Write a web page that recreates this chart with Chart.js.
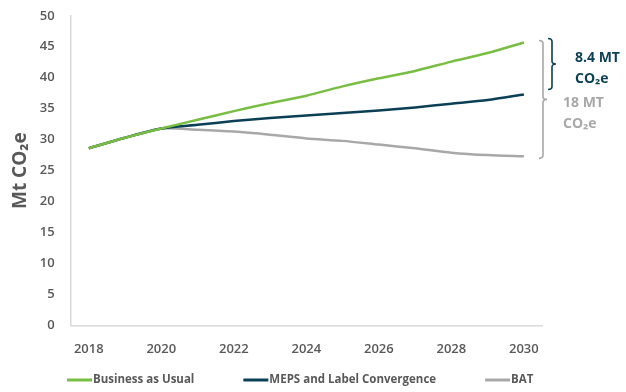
<!DOCTYPE html>
<html lang="en">
<head>
    <meta charset="UTF-8">
    <title>Mt CO2e projections</title>
    <script src="https://cdn.jsdelivr.net/npm/chart.js"></script>
    <style>
        body {
            margin: 0;
            background-color: white;
        }
        .chart-container {
            position: relative;
            width: 626px;
            height: 392px;
        }
    </style>
</head>
<body>
    <div class="chart-container">
        <canvas id="emissionsChart"></canvas>
    </div>

    <script>
        // Data
        const years = ['2018', '2019', '2020', '2021', '2022', '2023', '2024', '2025', '2026', '2027', '2028', '2029', '2030'];
        const businessAsUsual = [28.6, 30.3, 31.8, 33.2, 34.6, 35.9, 37.1, 38.6, 39.9, 41.1, 42.6, 44.0, 45.7];
        const mepsConvergence = [28.6, 30.3, 31.8, 32.4, 33.0, 33.5, 33.9, 34.3, 34.7, 35.2, 35.8, 36.4, 37.3];
        const bat = [28.6, 30.3, 31.8, 31.6, 31.3, 30.8, 30.2, 29.8, 29.2, 28.6, 27.9, 27.5, 27.3];
        const yTicks = [0, 5, 10, 15, 20, 25, 30, 35, 40, 45, 50];

        const green = '#78be43';
        const navy = '#0b3f56';
        const grey = '#a8a8a8';
        const textGrey = '#595959';
        const fontFamily = "'Open Sans', sans-serif";

        // Braces and labels showing the gap between scenarios in 2030
        const bracePlugin = {
            id: 'braces',
            afterDatasetsDraw(chart) {
                const ctx = chart.ctx;
                const y = chart.scales.y;
                const last = years.length - 1;
                const yBau = y.getPixelForValue(businessAsUsual[last]);
                const yMeps = y.getPixelForValue(mepsConvergence[last]);
                const yBat = y.getPixelForValue(bat[last]);
                const right = chart.chartArea.right;

                drawBrace(ctx, right + 1, yBau - 2, yBat + 2, 4, grey);
                drawBrace(ctx, right + 10, yBau - 4, yMeps - 5, 4, navy);

                const gapMeps = (businessAsUsual[last] - mepsConvergence[last]).toFixed(1);
                const gapBat = Math.round(businessAsUsual[last] - bat[last]);

                ctx.save();
                ctx.font = 'bold 14px ' + fontFamily;
                ctx.textBaseline = 'middle';
                ctx.textAlign = 'left';
                ctx.fillStyle = navy;
                ctx.fillText(gapMeps + ' MT', right + 33, (yBau + yMeps) / 2 - 10);
                ctx.fillText('CO\u2082e', right + 33, (yBau + yMeps) / 2 + 11);
                ctx.fillStyle = grey;
                ctx.fillText(gapBat + ' MT', right + 21, (yBau + yBat) / 2 + 4);
                ctx.fillText('CO\u2082e', right + 21, (yBau + yBat) / 2 + 25);
                ctx.restore();
            }
        };

        function drawBrace(ctx, x, y1, y2, w, color) {
            const mid = (y1 + y2) / 2;
            const r = 3;
            ctx.save();
            ctx.strokeStyle = color;
            ctx.lineWidth = 1.6;
            ctx.beginPath();
            ctx.moveTo(x - w, y1);
            ctx.quadraticCurveTo(x, y1, x, y1 + r);
            ctx.lineTo(x, mid - r);
            ctx.quadraticCurveTo(x, mid, x + w, mid);
            ctx.quadraticCurveTo(x, mid, x, mid + r);
            ctx.lineTo(x, y2 - r);
            ctx.quadraticCurveTo(x, y2, x - w, y2);
            ctx.stroke();
            ctx.restore();
        }

        // Legend laid out like the original (wide spacing, line swatches)
        const legendPlugin = {
            id: 'wideLegend',
            afterDraw(chart) {
                const ctx = chart.ctx;
                let x = 67;
                const y = 380;
                ctx.save();
                ctx.font = 'bold 11.5px ' + fontFamily;
                ctx.textBaseline = 'middle';
                ctx.textAlign = 'left';
                chart.data.datasets.forEach(ds => {
                    ctx.strokeStyle = ds.borderColor;
                    ctx.lineWidth = 3;
                    ctx.beginPath();
                    ctx.moveTo(x, y);
                    ctx.lineTo(x + 25, y);
                    ctx.stroke();
                    ctx.fillStyle = textGrey;
                    ctx.fillText(ds.label, x + 26, y);
                    x += 26 + ctx.measureText(ds.label).width + 49;
                });
                ctx.restore();
            }
        };

        const ctx = document.getElementById('emissionsChart').getContext('2d');
        const chart = new Chart(ctx, {
            type: 'line',
            data: {
                labels: years,
                datasets: [
                    {
                        label: 'Business as Usual',
                        data: businessAsUsual,
                        borderColor: green,
                        backgroundColor: green,
                        borderWidth: 2.5,
                        pointRadius: 0,
                        tension: 0.25
                    },
                    {
                        label: 'MEPS and Label Convergence',
                        data: mepsConvergence,
                        borderColor: navy,
                        backgroundColor: navy,
                        borderWidth: 2.5,
                        pointRadius: 0,
                        tension: 0.25
                    },
                    {
                        label: 'BAT',
                        data: bat,
                        borderColor: grey,
                        backgroundColor: grey,
                        borderWidth: 2.5,
                        pointRadius: 0,
                        tension: 0.25
                    }
                ]
            },
            options: {
                responsive: true,
                maintainAspectRatio: false,
                animation: false,
                layout: {
                    padding: { top: 7, right: 84, left: 9, bottom: 27 }
                },
                plugins: {
                    legend: { display: false },
                    tooltip: { enabled: false }
                },
                scales: {
                    x: {
                        offset: true,
                        grid: { display: false },
                        border: { color: '#d9d9d9', width: 1.5 },
                        ticks: {
                            autoSkip: false,
                            maxRotation: 0,
                            padding: 8,
                            color: textGrey,
                            font: { family: fontFamily, size: 13, weight: '600' },
                            callback: function (value, index) {
                                return index % 2 === 0 ? years[index] : '';
                            }
                        }
                    },
                    y: {
                        min: yTicks[0],
                        max: yTicks[yTicks.length - 1],
                        afterBuildTicks: function (axis) {
                            axis.ticks = yTicks.map(v => ({ value: v }));
                        },
                        grid: { display: false },
                        border: { color: '#d9d9d9', width: 1.5 },
                        ticks: {
                            padding: 8,
                            color: textGrey,
                            font: { family: fontFamily, size: 13, weight: '600' }
                        },
                        title: {
                            display: true,
                            text: 'Mt CO\u2082e',
                            color: textGrey,
                            padding: { top: 0, bottom: 0 },
                            font: { family: fontFamily, size: 19, weight: 'bold' }
                        }
                    }
                }
            },
            plugins: [bracePlugin, legendPlugin]
        });
    </script>
</body>
</html>
